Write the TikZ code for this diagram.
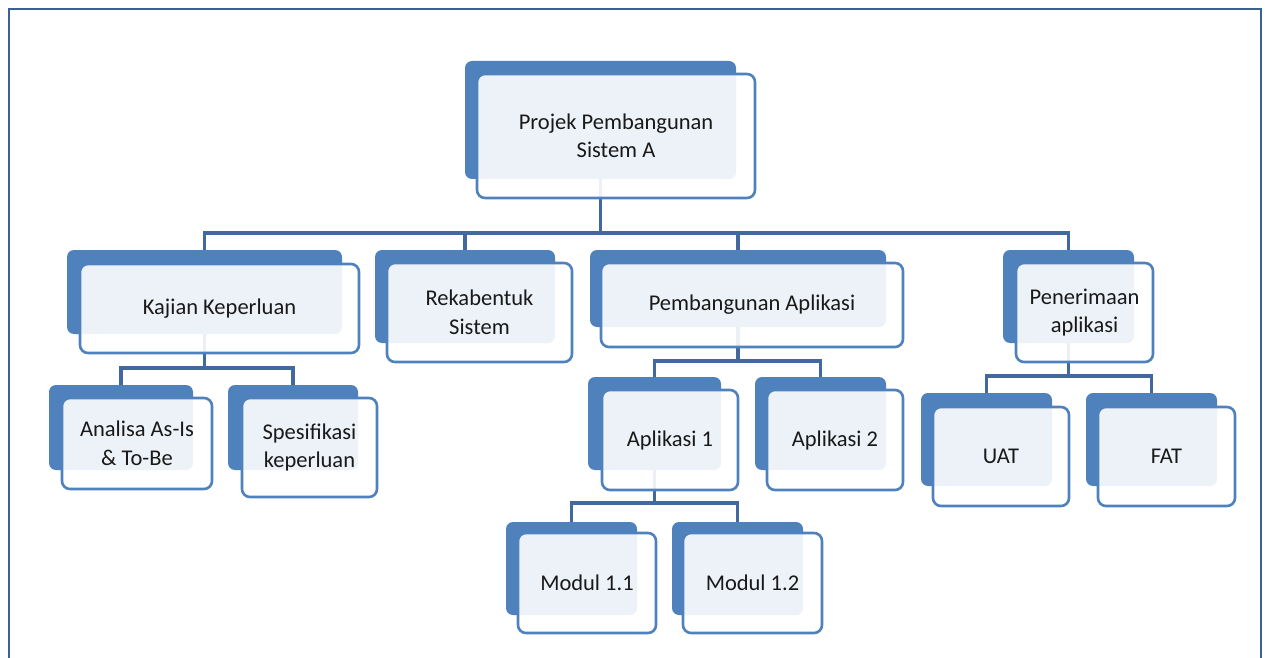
\documentclass[tikz,border=0pt]{standalone}
\usepackage{fontspec}
\setmainfont{Carlito}
\usetikzlibrary{fit}
\definecolor{accent}{HTML}{4F81BD}
\definecolor{connblue}{HTML}{4169A0}
\definecolor{framecol}{HTML}{3A6193}
\begin{document}
\begin{tikzpicture}[x=1pt,y=-1pt,
  backbox/.style={fill=accent, rounded corners=7pt, inner sep=0pt},
  frontbox/.style={draw=accent, line width=2.6pt, fill=white, fill opacity=0.9,
    rounded corners=8pt, inner sep=0pt,
    label={[cardtext]center:#1}},
  cardtext/.style={align=center, inner sep=0pt, text opacity=1, fill opacity=1,
    font=\fontsize{22.5}{28.5}\selectfont, text=black!90},
  conn/.style={draw=connblue, line width=3.5pt, line join=miter}]
\useasboundingbox (0,0) rectangle (1267,658);
% outer frame (open at the bottom edge of the page)
\begin{scope}
  \clip (0,0) rectangle (1267,658);
  \draw[framecol, line width=2.6pt] (9,9) rectangle (1261,672);
\end{scope}

% dark back plates
\node[backbox, fit={(465,61) (736,179)}] (topb) {};
\node[backbox, fit={(67,250) (342,334)}] (kajb) {};
\node[backbox, fit={(375,250) (555,343)}] (rekb) {};
\node[backbox, fit={(590,250) (886,327)}] (pemb) {};
\node[backbox, fit={(1003,250) (1134,343)}] (pnrb) {};
\node[backbox, fit={(49,385) (193,470)}] (anab) {};
\node[backbox, fit={(228,385) (358,470)}] (spsb) {};
\node[backbox, fit={(588,377) (721,470)}] (ap1b) {};
\node[backbox, fit={(755,377) (886,470)}] (ap2b) {};
\node[backbox, fit={(506,522) (637,615)}] (m11b) {};
\node[backbox, fit={(672,522) (803,615)}] (m12b) {};
\node[backbox, fit={(921,393) (1052,486)}] (uatb) {};
\node[backbox, fit={(1086,393) (1217,486)}] (fatb) {};

% connector bars
\coordinate (bar0) at (0,233);
\coordinate (barK) at (0,368);
\coordinate (barP) at (0,361);
\coordinate (barA) at (0,503);
\coordinate (barT) at (0,376);
\foreach \c in {kajb,rekb,pemb,pnrb}
  \draw[conn] (topb.south) -- (topb.south |- bar0) -| (\c.north);
\foreach \c in {anab,spsb}
  \draw[conn] (kajb.south) -- (kajb.south |- barK) -| (\c.north);
\foreach \c in {ap1b,ap2b}
  \draw[conn] (pemb.south) -- (pemb.south |- barP) -| (\c.north);
\foreach \c in {m11b,m12b}
  \draw[conn] (ap1b.south) -- (ap1b.south |- barA) -| (\c.north);
\foreach \c in {uatb,fatb}
  \draw[conn] (pnrb.south) -- (pnrb.south |- barT) -| (\c.north);

% light front cards with labels
\node[frontbox={Projek Pembangunan\\Sistem A}, fit={(477,74) (755,198)}] (top) {};
\node[frontbox={Kajian Keperluan}, fit={(80,264) (359,353)}] (kaj) {};
\node[frontbox={Rekabentuk\\Sistem}, fit={(387,263) (572,362)}] (rek) {};
\node[frontbox={Pembangunan Aplikasi}, fit={(601,263) (903,347)}] (pem) {};
\node[frontbox={Penerimaan\\aplikasi}, fit={(1016,263) (1153,362)}] (pnr) {};
\node[frontbox={Analisa As-Is\\\& To-Be}, fit={(62,398) (212,489)}] (ana) {};
\node[frontbox={Spesifikasi\\keperluan}, fit={(242,398) (377,497)}] (sps) {};
\node[frontbox={Aplikasi 1}, fit={(602,390) (738,490)}] (ap1) {};
\node[frontbox={Aplikasi 2}, fit={(767,390) (903,490)}] (ap2) {};
\node[frontbox={Modul 1.1}, fit={(518,533) (656,633)}] (m11) {};
\node[frontbox={Modul 1.2}, fit={(683,533) (822,633)}] (m12) {};
\node[frontbox={UAT}, fit={(933,407) (1069,506)}] (uat) {};
\node[frontbox={FAT}, fit={(1098,407) (1235,506)}] (fat) {};
\end{tikzpicture}
\end{document}
